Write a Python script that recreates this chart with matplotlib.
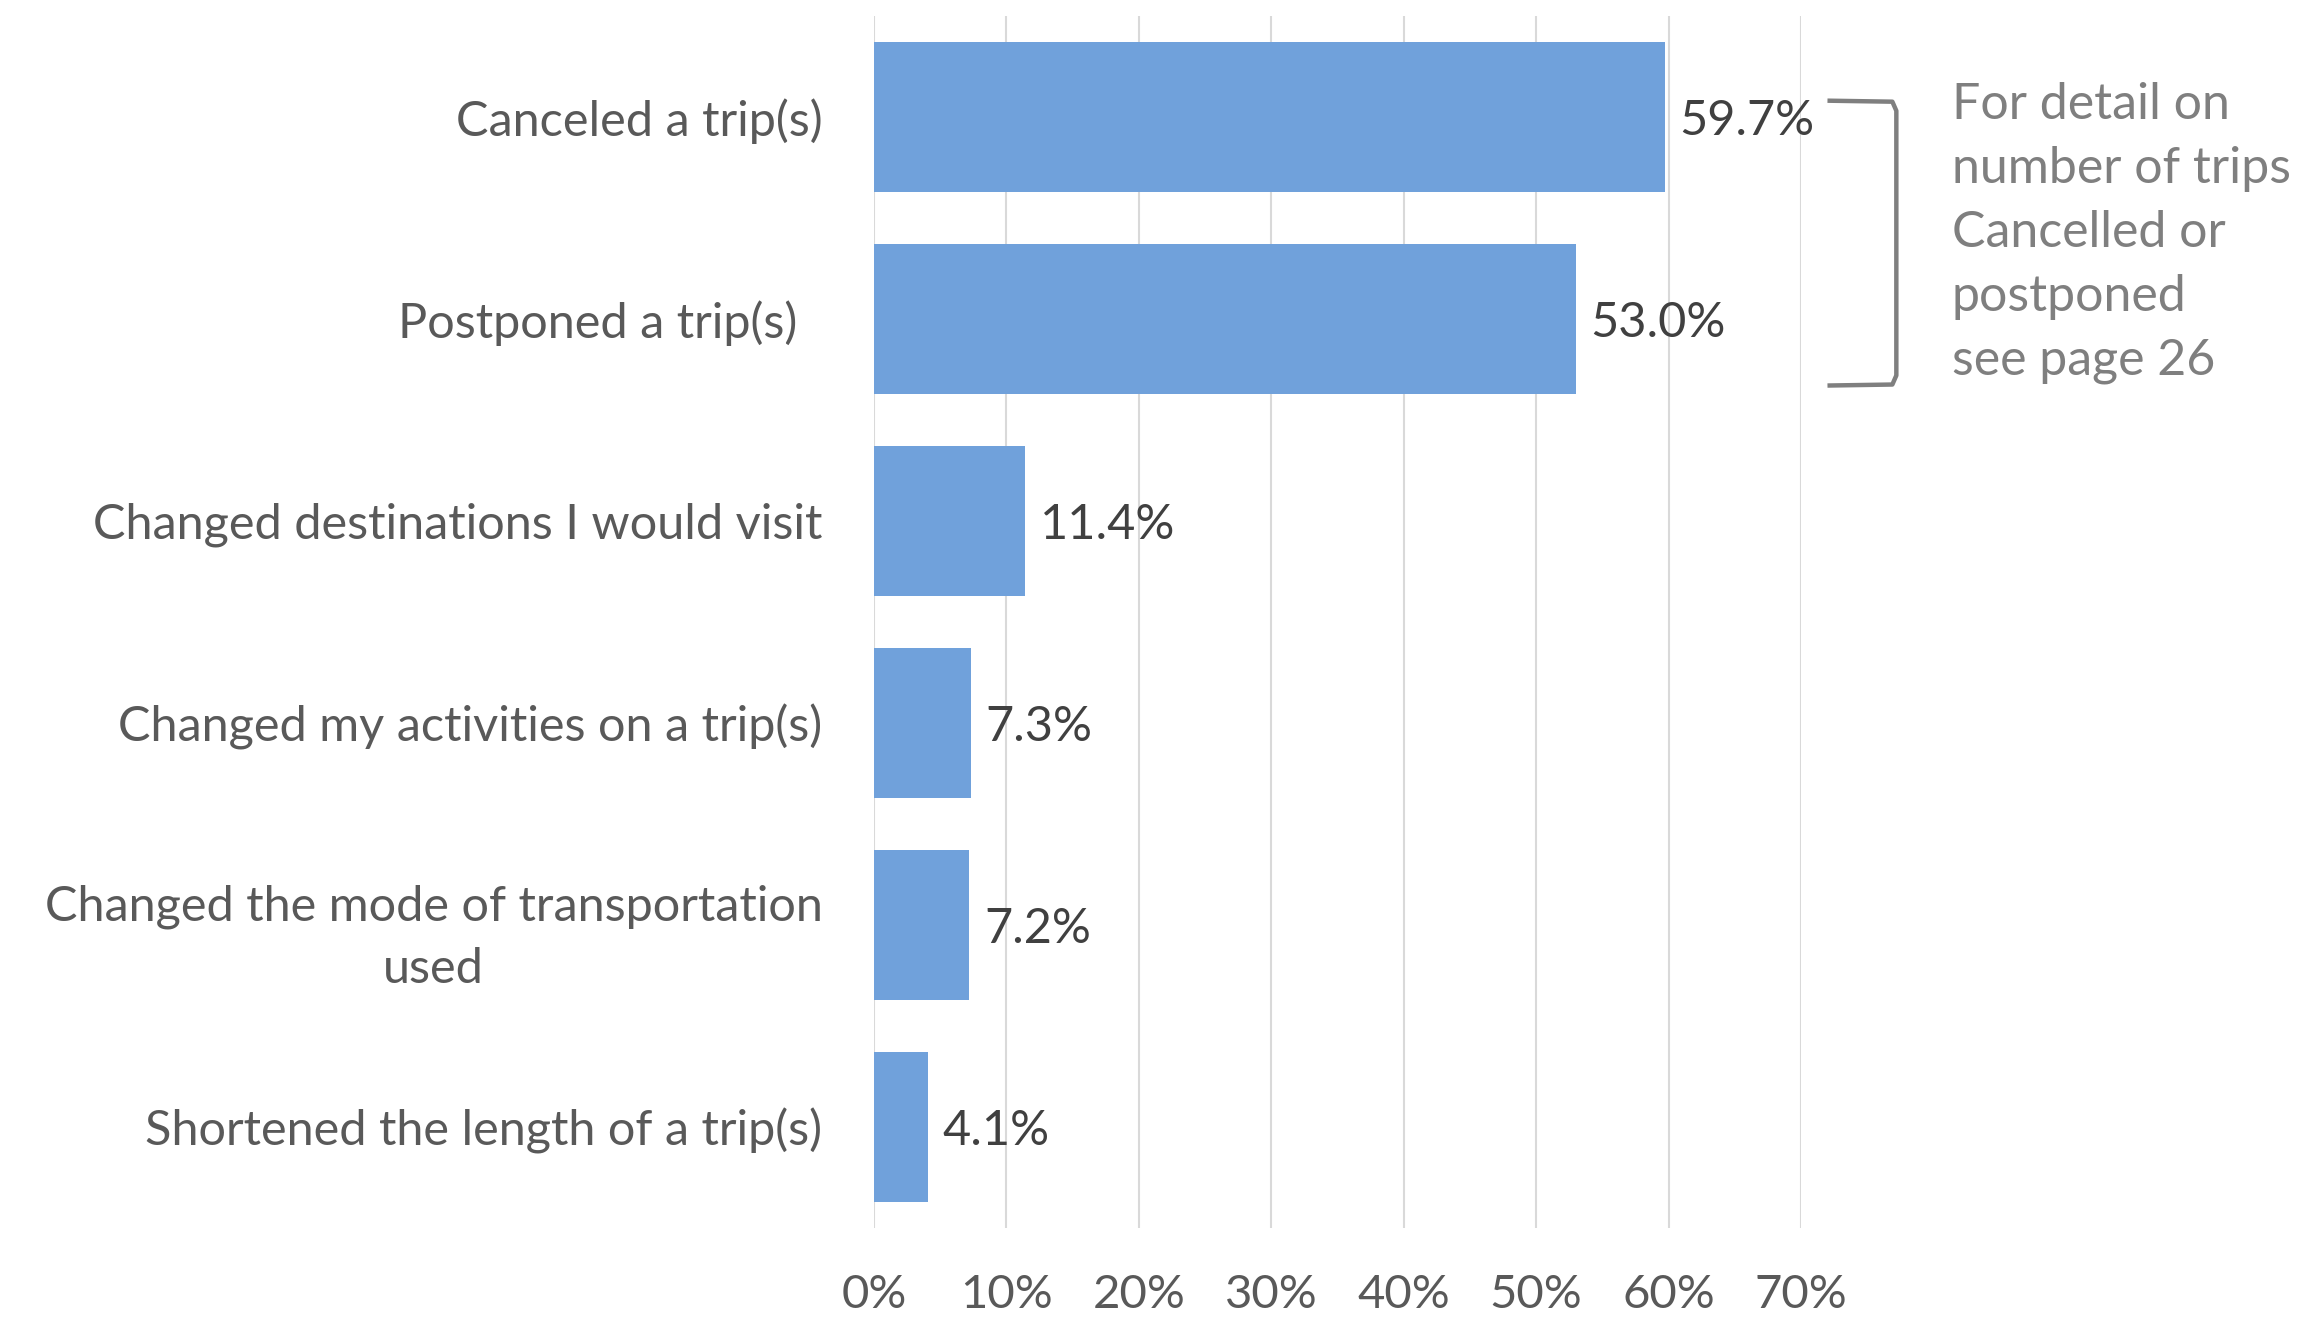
import matplotlib.pyplot as plt
import numpy as np

# reasons for changing travel plans, share of respondents (%)
categories = [
    "Canceled a trip(s)",
    "Postponed a trip(s)  ",
    "Changed destinations I would visit",
    "Changed my activities on a trip(s)",
    "Changed the mode of transportation\nused",
    "Shortened the length of a trip(s)",
]
values = [59.7, 53.0, 11.4, 7.3, 7.2, 4.1]
xticks = [0, 10, 20, 30, 40, 50, 60, 70]
note = "For detail on\nnumber of trips\nCancelled or\npostponed\nsee page 26"

plt.rcParams['font.family'] = ['Lato', 'DejaVu Sans']

fig = plt.figure(figsize=(23.06, 13.19), dpi=100)
ax = fig.add_axes([0.379, 0.069, 0.402, 0.919])

y = np.arange(len(categories))
ax.barh(y, values, height=0.74, color='#70A1DB', zorder=2)

ax.set_xlim(0, 70)
ax.set_ylim(len(categories) - 0.5, -0.5)
ax.set_xticks(xticks)
ax.set_xticklabels([f"{t}%" for t in xticks], fontsize=34, color='#595959')
ax.set_yticks(y)
ax.set_yticklabels(categories, fontsize=35, color='#595959', linespacing=1.5)
ax.tick_params(axis='both', length=0)
ax.tick_params(axis='x', pad=33)
ax.tick_params(axis='y', pad=37)
for lab in ax.get_yticklabels():
    lab.set_horizontalalignment('right')
    lab.set_multialignment('center')

ax.grid(axis='x', color='#d9d9d9', linewidth=1.5, zorder=0)
for s in ax.spines.values():
    s.set_visible(False)

# value labels at the bar ends
for yi, v in zip(y, values):
    ax.text(v + 1.1, yi + 0.02, f"{v:.1f}%", va='center', ha='left',
            fontsize=35, color='#404040')

# bracket round the first two bars, with note
bx0, bx1 = 72.0, 77.2
by0, by1 = -0.08, 1.33
ax.plot([bx0, bx1 - 0.3, bx1, bx1, bx1 - 0.3, bx0],
        [by0, by0 + 0.005, by0 + 0.05, by1 - 0.05, by1 - 0.005, by1],
        color='#7f7f7f', linewidth=3.2, clip_on=False, solid_capstyle='butt')
ax.text(81.4, -0.17, note, va='top', ha='left', fontsize=36,
        color='#7f7f7f', linespacing=1.48)

fig.savefig("out.png", dpi=100)
